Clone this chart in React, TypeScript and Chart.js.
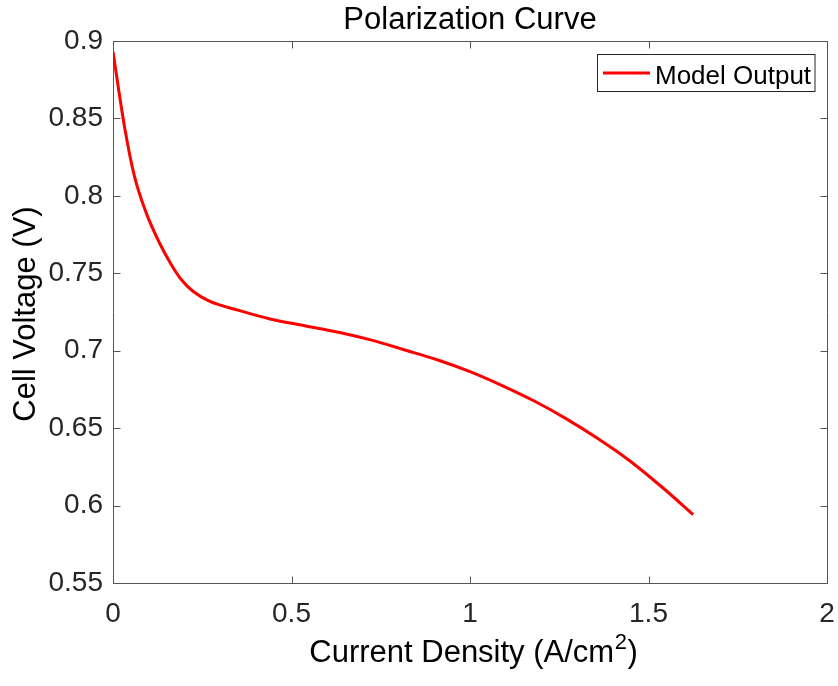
import React, { useEffect, useRef } from "react";
import { Chart, registerables } from "chart.js";

Chart.register(...registerables);

// ---- data ----
const currentDensity = [
  0, 0.032, 0.06, 0.093, 0.13, 0.163, 0.191, 0.224, 0.27, 0.35, 0.44, 0.54,
  0.635, 0.73, 0.82, 0.91, 1.0, 1.09, 1.18, 1.27, 1.36, 1.45, 1.54, 1.625,
];
const cellVoltage = [
  0.893, 0.845, 0.8127, 0.789, 0.7697, 0.7557, 0.746, 0.7384, 0.732, 0.7262, 0.7205, 0.716,
  0.7118, 0.7065, 0.7003, 0.694, 0.6865, 0.6775, 0.6675, 0.656, 0.643, 0.6285, 0.6115, 0.5942,
];
const xTickValues = [0, 0.5, 1, 1.5, 2];
const xTickLabels = ["0", "0.5", "1", "1.5", "2"];
const yTickValues = [0.55, 0.6, 0.65, 0.7, 0.75, 0.8, 0.85, 0.9];
const yTickLabels = ["0.55", "0.6", "0.65", "0.7", "0.75", "0.8", "0.85", "0.9"];
const seriesName = "Model Output";
const titleText = "Polarization Curve";
const xLabelMain = "Current Density (A/cm";
const xLabelSup = "2";
const xLabelEnd = ")";
const yLabelText = "Cell Voltage (V)";

const FONT = '"Liberation Sans", Arial, Helvetica, sans-serif';
const AXIS_COLOR = "#555555";
const TEXT_COLOR = "#262626";

const boxPlugin = {
  id: "matlabBox",
  beforeDatasetsDraw(chart: any) {
    const { ctx, chartArea } = chart;
    const xs = chart.scales.x;
    const ys = chart.scales.y;
    const l = Math.round(chartArea.left) + 0.5;
    const r = Math.round(chartArea.right) + 0.5;
    const t = Math.round(chartArea.top) + 0.5;
    const b = Math.round(chartArea.bottom) + 0.5;
    ctx.save();
    ctx.strokeStyle = AXIS_COLOR;
    ctx.lineWidth = 1;
    ctx.beginPath();
    ctx.rect(l, t, r - l, b - t);
    const tl = 7;
    xTickValues.forEach((v) => {
      const px = Math.round(xs.getPixelForValue(v)) + 0.5;
      ctx.moveTo(px, b);
      ctx.lineTo(px, b - tl);
      ctx.moveTo(px, t);
      ctx.lineTo(px, t + tl);
    });
    yTickValues.forEach((v) => {
      const py = Math.round(ys.getPixelForValue(v)) + 0.5;
      ctx.moveTo(l, py);
      ctx.lineTo(l + tl, py);
      ctx.moveTo(r, py);
      ctx.lineTo(r - tl, py);
    });
    ctx.stroke();
    ctx.restore();
  },
  afterDatasetsDraw(chart: any) {
    const { ctx } = chart;
    ctx.save();
    // title
    ctx.fillStyle = "#000000";
    ctx.font = `31px ${FONT}`;
    ctx.textAlign = "center";
    ctx.textBaseline = "alphabetic";
    ctx.fillText(titleText, 470, 28.5);

    // x label with superscript
    const mainFont = `31px ${FONT}`;
    const supFont = `22px ${FONT}`;
    ctx.font = mainFont;
    const w1 = ctx.measureText(xLabelMain).width;
    const w3 = ctx.measureText(xLabelEnd).width;
    ctx.font = supFont;
    const w2 = ctx.measureText(xLabelSup).width;
    const total = w1 + w2 + w3;
    const x0 = 473 - total / 2;
    const base = 662;
    ctx.textAlign = "left";
    ctx.font = mainFont;
    ctx.fillText(xLabelMain, x0, base);
    ctx.font = supFont;
    ctx.fillText(xLabelSup, x0 + w1 + 0.5, base - 13);
    ctx.font = mainFont;
    ctx.fillText(xLabelEnd, x0 + w1 + w2 + 1, base);

    // y label
    ctx.save();
    ctx.translate(35, 314);
    ctx.rotate(-Math.PI / 2);
    ctx.textAlign = "center";
    ctx.font = mainFont;
    ctx.fillText(yLabelText, 0, 0);
    ctx.restore();

    // legend
    ctx.fillStyle = "#ffffff";
    ctx.fillRect(597.5, 54.5, 217.5, 37);
    ctx.strokeStyle = "#262626";
    ctx.lineWidth = 1;
    ctx.strokeRect(597.5, 54.5, 217.5, 37);
    ctx.strokeStyle = "#ff0000";
    ctx.lineWidth = 3;
    ctx.beginPath();
    ctx.moveTo(603, 73);
    ctx.lineTo(650, 73);
    ctx.stroke();
    ctx.fillStyle = "#000000";
    ctx.font = `26px ${FONT}`;
    ctx.textAlign = "left";
    ctx.fillText(seriesName, 655, 84.3);
    ctx.restore();
  },
};

export default function App() {
  const ref = useRef<HTMLCanvasElement | null>(null);
  useEffect(() => {
    document.body.style.margin = "0";
    const canvas = ref.current!;
    const chart = new Chart(canvas, {
      type: "line",
      data: {
        datasets: [
          {
            label: seriesName,
            data: currentDensity.map((x, i) => ({ x, y: cellVoltage[i] })),
            borderColor: "#ff0000",
            backgroundColor: "#ff0000",
            borderWidth: 3,
            pointRadius: 0,
            fill: false,
            cubicInterpolationMode: "monotone",
          },
        ],
      },
      options: {
        animation: false,
        responsive: false,
        maintainAspectRatio: false,
        layout: { padding: { top: 41, right: 11, bottom: 0, left: 0 } },
        plugins: {
          legend: { display: false },
          title: { display: false },
          tooltip: { enabled: false },
        },
        scales: {
          x: {
            type: "linear",
            min: 0,
            max: 2,
            afterFit: (s: any) => {
              s.height = 103;
              s.paddingLeft = 0;
              s.paddingRight = 0;
            },
            afterBuildTicks: (s: any) => {
              s.ticks = xTickValues.map((v) => ({ value: v }));
            },
            ticks: {
              padding: 14,
              color: TEXT_COLOR,
              font: { family: FONT, size: 28 },
              maxRotation: 0,
              autoSkip: false,
              callback: (v: any) => {
                const i = xTickValues.findIndex((t) => Math.abs(t - Number(v)) < 1e-9);
                return i >= 0 ? xTickLabels[i] : "";
              },
            },
            grid: { display: false, drawTicks: false },
            border: { display: false },
          },
          y: {
            type: "linear",
            min: 0.55,
            max: 0.9,
            afterFit: (s: any) => {
              s.width = 113;
              s.paddingTop = 0;
              s.paddingBottom = 0;
            },
            afterBuildTicks: (s: any) => {
              s.ticks = yTickValues.map((v) => ({ value: v }));
            },
            ticks: {
              padding: 10,
              color: TEXT_COLOR,
              font: { family: FONT, size: 28 },
              autoSkip: false,
              callback: (v: any) => {
                const i = yTickValues.findIndex((t) => Math.abs(t - Number(v)) < 1e-9);
                return i >= 0 ? yTickLabels[i] : "";
              },
            },
            grid: { display: false, drawTicks: false },
            border: { display: false },
          },
        },
      },
      plugins: [boxPlugin],
    } as any);
    return () => chart.destroy();
  }, []);
  return (
    <div style={{ position: "absolute", left: 0, top: 0, width: 838, height: 686, background: "#fff" }}>
      <canvas ref={ref} width={838} height={686} style={{ width: 838, height: 686, display: "block" }} />
    </div>
  );
}
